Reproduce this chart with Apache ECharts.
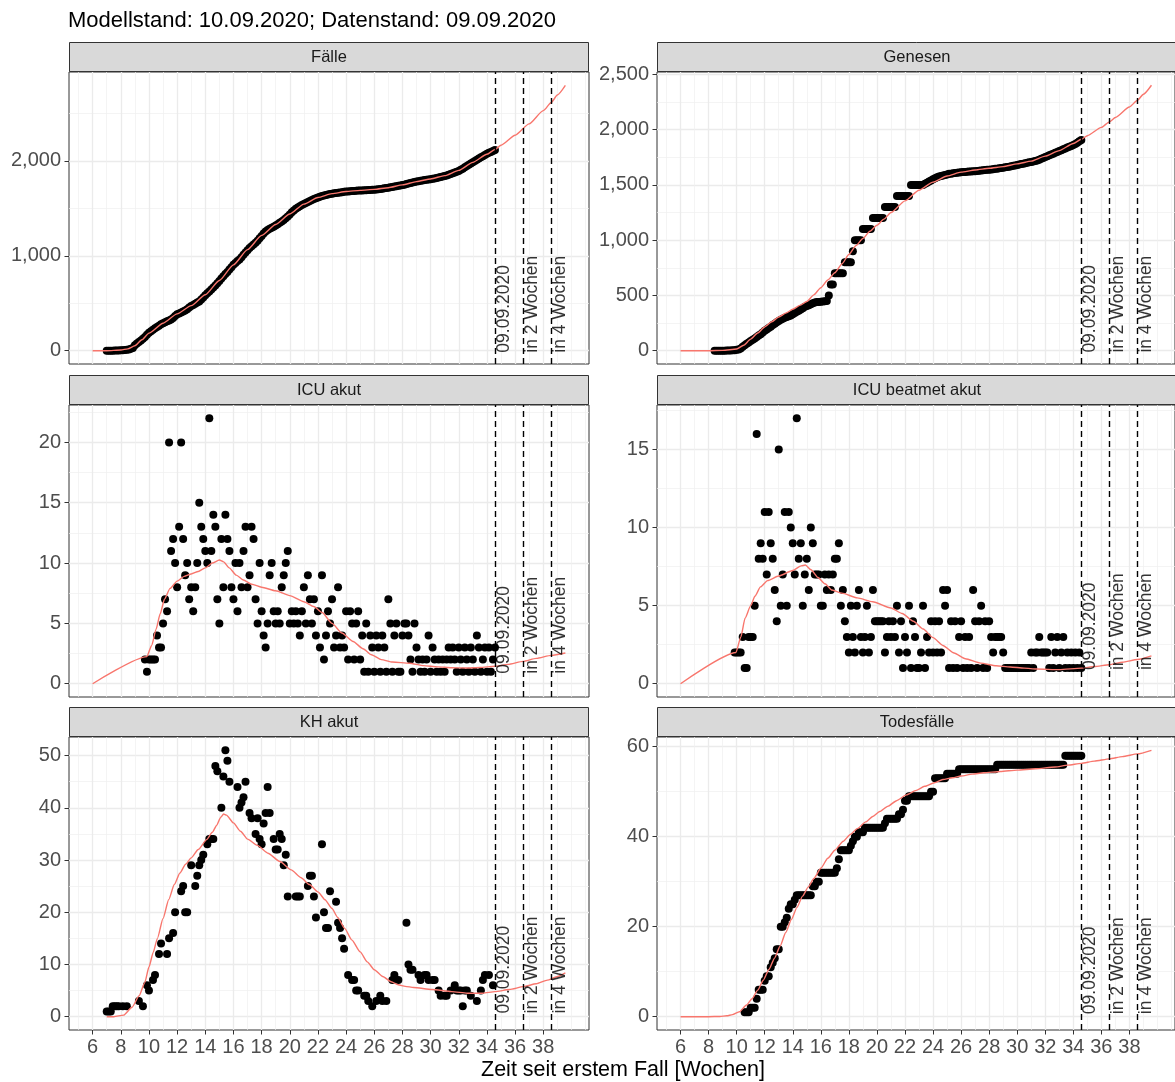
<!DOCTYPE html>
<html>
<head>
<meta charset="utf-8">
<script src="https://cdn.jsdelivr.net/npm/echarts@6/dist/echarts.min.js"></script>
<style>
html,body{margin:0;padding:0;background:#fff;}
#chart{width:1175px;height:1082px;}
</style>
</head>
<body>
<div id="chart"></div>
<script>
// ---------------- DATA ----------------
const titleText = 'Modellstand: 10.09.2020; Datenstand: 09.09.2020';
const xAxisTitle = 'Zeit seit erstem Fall [Wochen]';
const panelTitles = ['Fälle', 'Genesen', 'ICU akut', 'ICU beatmet akut', 'KH akut', 'Todesfälle'];

// daily observations start at week 7 (one value per day)
const firstWeek = 7;

const refLineWeeks = [34.571, 36.571, 38.571];
const refLineLabels = ['09.09.2020', 'in 2 Wochen', 'in 4 Wochen'];
const refLabelY = 1;

const xMajorTicks = [6, 8, 10, 12, 14, 16, 18, 20, 22, 24, 26, 28, 30, 32, 34, 36, 38];
const xMinorTicks = [5, 7, 9, 11, 13, 15, 17, 19, 21, 23, 25, 27, 29, 31, 33, 35, 37, 39, 40, 41];

const faelle = [
0,0,1,1,2,2,3,
5,6,8,10,14,20,30,
58,75,92,108,125,145,168,
190,205,222,236,250,264,278,
290,300,310,318,328,345,365,
385,393,404,414,424,438,455,
470,482,495,508,520,540,562,
585,605,625,645,665,688,712,
735,760,785,808,830,855,880,
905,925,945,962,985,1010,1035,
1060,1082,1100,1118,1138,1160,1185,
1210,1235,1255,1272,1285,1295,1305,
1320,1333,1348,1362,1378,1395,1415,
1435,1458,1478,1495,1510,1522,1535,
1545,1556,1566,1578,1588,1598,1607,
1615,1622,1630,1636,1642,1647,1651,
1655,1659,1662,1665,1668,1671,1674,
1677,1679,1681,1683,1684,1686,1687,
1688,1689,1690,1692,1693,1694,1696,
1697,1699,1702,1705,1708,1711,1714,
1718,1722,1726,1730,1734,1738,1741,
1745,1750,1756,1762,1768,1773,1778,
1782,1786,1790,1794,1798,1801,1805,
1808,1812,1816,1821,1826,1830,1835,
1840,1846,1853,1861,1869,1877,1885,
1895,1906,1918,1932,1946,1960,1972,
1985,1998,2012,2025,2038,2050,2062,
2075,2085,2095,2105,2115
];

const genesen = [
null,null,null,null,null,null,null,
null,null,null,0,0,0,0,
0,0,2,2,3,4,5,
8,12,20,35,50,62,75,
88,100,110,125,138,150,165,
180,192,205,218,232,245,258,
268,280,290,298,305,312,318,
330,342,352,362,372,385,398,
405,412,420,430,436,440,440,
442,445,448,450,500,600,600,
700,700,700,700,700,800,800,
800,800,900,1000,1000,1000,1000,
1100,1100,1100,1100,1100,1200,1200,
1200,1200,1200,1200,1300,1300,1300,
1300,1300,1300,1400,1400,1400,1400,
1400,1400,1400,1500,1500,1500,1500,
1500,1500,1500,1510,1520,1530,1540,
1550,1560,1570,1575,1580,1585,1590,
1595,1600,1600,1605,1608,1610,1612,
1615,1616,1617,1618,1620,1621,1623,
1624,1626,1628,1630,1632,1634,1636,
1638,1640,1642,1645,1647,1650,1653,
1656,1659,1662,1665,1668,1672,1676,
1680,1684,1688,1692,1696,1700,1704,
1708,1712,1716,1720,1728,1736,1744,
1752,1760,1768,1775,1782,1790,1798,
1806,1814,1822,1830,1838,1845,1852,
1860,1870,1882,1894,1905
];

const icuAkut = [
null,null,null,null,null,null,null,
null,null,null,null,null,null,null,
null,null,null,null,null,2,1,
2,2,2,2,4,3,3,
5,7,6,20,11,12,10,
8,13,20,12,9,10,7,
8,6,8,10,15,13,12,
11,10,22,11,14,13,7,
5,12,8,14,12,11,8,
7,10,6,10,8,11,13,
8,9,13,12,7,5,10,
6,4,3,5,9,10,6,
5,6,5,8,9,10,11,
5,6,5,6,5,4,6,
8,5,9,7,5,7,4,
6,3,9,2,4,6,5,
7,3,4,8,3,4,3,
6,2,6,5,2,5,6,
2,4,1,5,1,4,3,
1,4,3,1,4,3,1,
7,5,1,4,5,1,1,
4,5,5,4,2,1,5,
3,2,1,2,1,2,4,
1,3,2,1,2,1,2,
1,2,3,2,3,2,1,
3,2,1,3,2,1,3,
2,1,4,3,1,2,3,
1,3,1,2,3
];

const icuBeatmet = [
null,null,null,null,null,null,null,
null,null,null,null,null,null,null,
null,null,null,null,null,null,2,
2,2,2,3,1,1,3,
3,3,5,16,8,9,8,
11,7,11,9,8,6,4,
15,5,7,11,5,11,10,
9,7,17,8,9,5,7,
8,6,10,9,7,7,7,
5,5,7,6,7,6,7,
8,8,9,5,6,4,3,
2,5,3,2,5,6,3,
2,3,5,2,3,6,4,
4,4,4,4,2,3,4,
3,4,3,5,2,4,1,
3,2,5,1,4,3,1,
1,2,5,1,3,2,4,
2,4,2,4,2,6,5,
6,1,4,1,4,1,3,
4,1,3,1,3,1,6,
4,1,4,5,1,4,1,
4,3,2,3,3,3,3,
2,1,1,1,1,1,1,
1,1,1,1,1,1,1,
2,1,2,2,3,2,2,
2,2,1,3,1,2,3,
1,2,3,1,2,1,2,
1,2,1,2,1
];

const khAkut = [
1,1,1,2,2,2,2,
null,2,null,2,null,null,null,
null,null,3,null,2,null,6,
5,null,7,8,null,12,14,
null,null,12,15,null,16,20,
null,null,24,25,20,20,null,
29,null,25,27,29,30,31,
null,33,34,34,34,48,47,
null,40,46,51,49,45,null,
null,null,44,40,41,42,45,
null,39,38,null,35,38,34,
33,37,39,44,39,null,34,
32,32,35,34,29,31,23,
null,null,null,23,23,23,null,
null,null,25,27,27,23,19,
null,null,33,20,17,17,24,
null,null,22,18,17,15,13,
null,8,null,7,7,5,5,
null,null,4,4,3,null,2,
null,3,null,4,3,null,3,
null,null,7,8,null,7,null,
null,null,18,10,9,9,null,
null,8,7,null,8,8,7,
null,7,7,null,5,4,null,
4,4,null,5,null,6,5,
5,5,2,5,5,null,4,
null,null,3,null,5,7,8,
null,8,null,6,null
];

const todesfaelle = [
null,null,null,null,null,null,null,
null,null,null,null,null,null,null,
null,null,null,null,null,null,null,
null,null,null,null,1,1,1,
2,2,2,4,6,6,6,
8,9,9,11,12,13,15,
15,20,20,21,22,24,25,
25,26,27,27,27,27,27,
27,27,27,29,29,30,30,
32,32,32,32,32,32,32,
32,33,35,37,37,37,37,
37,38,39,40,40,41,41,
41,42,42,42,42,42,42,
42,42,42,42,43,44,44,
44,44,44,44,45,45,46,
48,48,49,49,49,49,49,
49,49,49,49,49,49,50,
50,53,53,53,53,53,53,
54,54,54,54,54,54,55,
55,55,55,55,55,55,55,
55,55,55,55,55,55,55,
55,55,55,55,56,56,56,
56,56,56,56,56,56,56,
56,56,56,56,56,56,56,
56,56,56,56,56,56,56,
56,56,56,56,56,56,56,
56,56,56,58,58,58,58,
58,58,58,58,58
];

// model fit curves: [week, value]
const faelleFit = [[6,0],[7,0],[8,8],[8.5,20],[9,52],[9.5,115],[10,185],[11,290],[12,388],[13,475],[14,590],[15,740],[16,905],[17,1065],[18,1215],[19,1330],[20,1440],[21,1545],[22,1615],[23,1655],[24,1678],[25,1690],[26,1700],[27,1718],[28,1748],[29,1782],[30,1810],[31,1845],[32,1900],[33,1985],[34,2070],[34.571,2120],[35,2165],[36,2270],[37,2390],[38,2530],[38.571,2615],[39,2695],[39.571,2797]];
const genesenFit = [[6,0],[8,0],[9,3],[10,15],[10.5,50],[11,105],[11.5,160],[12,215],[12.5,262],[13,305],[13.5,340],[14,375],[14.5,410],[15,445],[15.5,505],[16,570],[16.5,640],[17,705],[17.5,785],[18,870],[18.5,950],[19,1015],[19.5,1080],[20,1135],[20.5,1190],[21,1250],[22,1355],[23,1452],[24,1525],[25,1580],[26,1615],[27,1635],[28,1650],[29,1665],[30,1690],[31,1715],[32,1760],[33,1810],[34,1875],[34.571,1913],[35,1945],[36,2020],[36.571,2070],[37,2110],[38,2205],[38.571,2265],[39,2320],[39.571,2401]];
const icuAkutFit = [[6,0],[9.85,2.25],[10.2,3.2],[10.5,4.5],[10.8,5.8],[11.1,7.0],[11.5,7.9],[12,8.5],[12.5,8.9],[13,9.1],[13.5,9.3],[14,9.6],[14.5,10.0],[15,10.25],[15.3,10.1],[15.7,9.6],[16.2,9.0],[16.7,8.6],[17.3,8.25],[18,8.0],[19,7.7],[20,7.3],[21,6.8],[21.7,6.4],[22.3,5.9],[23,5.0],[23.7,4.2],[24.5,3.5],[25.2,2.9],[25.8,2.4],[26.5,2.0],[27.3,1.8],[28.5,1.7],[29.5,1.5],[30.5,1.4],[31.5,1.32],[32.5,1.3],[33.5,1.35],[34.571,1.45],[35.5,1.6],[36.571,1.85],[37.5,2.1],[38.571,2.35],[39.571,2.55]];
const icuBeatmetFit = [[6,0],[9.95,2.0],[10.3,3.0],[10.6,4.2],[11,5.0],[11.3,5.6],[11.7,6.2],[12.2,6.6],[13,6.9],[14,7.25],[14.6,7.55],[14.9,7.6],[15.3,7.3],[15.8,6.8],[16.3,6.4],[16.8,6.0],[17.5,5.8],[18.6,5.5],[19.7,5.25],[21,4.85],[21.8,4.5],[22.6,4.0],[23.3,3.5],[24,2.95],[24.7,2.45],[25.5,1.97],[26.3,1.6],[27.4,1.32],[28.5,1.15],[29.5,1.07],[30.5,1.0],[31.4,0.94],[33,0.9],[34.571,1.0],[35.5,1.1],[36.571,1.22],[37.5,1.38],[38.571,1.55],[39.571,1.78]];
const khAkutFit = [[7,0],[7.5,0],[8.2,0.3],[8.8,1.8],[9.3,4],[9.7,6.5],[10,9.5],[10.3,12.3],[10.6,15],[11,18.8],[11.4,22.4],[11.8,25.3],[12.2,27.5],[12.6,29.2],[13,30.4],[13.5,32],[14.1,33.9],[14.5,35.3],[14.8,36.6],[15.1,38.2],[15.3,38.8],[15.5,38.6],[16,37.1],[16.5,35.5],[17,34],[17.7,32.8],[18.45,31.3],[19.3,29.7],[20.1,28.1],[20.8,26.6],[21.4,25.3],[22,23.9],[22.5,22.4],[23,20.7],[23.4,19],[23.9,16.9],[24.4,14.7],[25,12.4],[25.5,10.5],[26,9],[26.6,7.7],[27.2,6.7],[27.7,6.1],[28.2,5.8],[28.8,5.6],[30.1,5.2],[31.5,4.8],[32.6,4.5],[33.7,4.5],[34.571,4.8],[35.6,5.2],[36.6,5.75],[37.5,6.3],[38.3,7.0],[38.9,7.6],[39.571,8.4]];
const todesfaelleFit = [[6,0],[8,0],[8.8,0.05],[9.3,0.2],[9.7,0.45],[10.2,1.1],[10.7,2.6],[11.1,4.0],[11.5,5.9],[11.9,8.1],[12.3,10.5],[12.7,13.0],[13.1,15.7],[13.5,18.7],[13.9,21.6],[14.3,24.3],[14.7,26.8],[15.1,28.8],[15.5,30.7],[16,33],[16.5,35.2],[17,37],[17.6,39],[18.1,40.5],[18.6,41.8],[19.2,43.3],[19.7,44.5],[20.2,45.6],[20.8,46.8],[21.4,48],[22.1,49.3],[22.8,50.3],[23.4,51.2],[24.1,52],[24.7,52.7],[25.4,53.1],[26,53.5],[26.8,53.9],[27.6,54.2],[28.8,54.5],[30,54.8],[31.3,55.1],[32.7,55.5],[33.6,55.9],[34.571,56.3],[35.5,56.8],[36.571,57.3],[37.5,57.8],[38.571,58.4],[39.571,59.2]];

// y tick labels (major) and minor grid positions
const faelleYTicks = [0, 1000, 2000];          const faelleYMinor = [500, 1500, 2500];
const genesenYTicks = [0, 500, 1000, 1500, 2000, 2500]; const genesenYMinor = [250, 750, 1250, 1750, 2250];
const icuAkutYTicks = [0, 5, 10, 15, 20];      const icuAkutYMinor = [2.5, 7.5, 12.5, 17.5, 22.5];
const icuBeatmetYTicks = [0, 5, 10, 15];       const icuBeatmetYMinor = [2.5, 7.5, 12.5, 17.5];
const khAkutYTicks = [0, 10, 20, 30, 40, 50];  const khAkutYMinor = [5, 15, 25, 35, 45];
const todesYTicks = [0, 20, 40, 60];           const todesYMinor = [10, 30, 50];

// ---------------- LAYOUT / STYLE ----------------
const FONT = "'Liberation Sans', Arial, Helvetica, sans-serif";
const colLeft = [69, 657];
const panelW = 520;
const rowTop = [72, 405, 737];
const rowH = [292, 292, 293];
const stripH = 30;

const panels = [
  {title: panelTitles[0], pts: faelle, fit: faelleFit, yt: faelleYTicks, ym: faelleYMinor, row: 0, col: 0},
  {title: panelTitles[1], pts: genesen, fit: genesenFit, yt: genesenYTicks, ym: genesenYMinor, row: 0, col: 1},
  {title: panelTitles[2], pts: icuAkut, fit: icuAkutFit, yt: icuAkutYTicks, ym: icuAkutYMinor, row: 1, col: 0},
  {title: panelTitles[3], pts: icuBeatmet, fit: icuBeatmetFit, yt: icuBeatmetYTicks, ym: icuBeatmetYMinor, row: 1, col: 1},
  {title: panelTitles[4], pts: khAkut, fit: khAkutFit, yt: khAkutYTicks, ym: khAkutYMinor, row: 2, col: 0},
  {title: panelTitles[5], pts: todesfaelle, fit: todesfaelleFit, yt: todesYTicks, ym: todesYMinor, row: 2, col: 1}
];

function toPoints(arr) {
  const out = [];
  arr.forEach((v, i) => { if (v !== null) out.push([firstWeek + i / 7, v]); });
  return out;
}

// shared x limits (ggplot-style 5% expansion)
let xLo = Infinity, xHi = -Infinity;
panels.forEach(p => p.fit.forEach(d => { xLo = Math.min(xLo, d[0]); xHi = Math.max(xHi, d[0]); }));
const xPad = (xHi - xLo) * 0.05;
const xMin = xLo - xPad, xMax = xHi + xPad;

const fmt = v => Number(v).toLocaleString('en-US');

const grids = [], xAxes = [], yAxes = [], series = [], graphics = [];

panels.forEach((p, k) => {
  const left = colLeft[p.col];
  const top = rowTop[p.row];
  const h = rowH[p.row];
  const bottomRow = p.row === 2;
  grids.push({left: left, top: top, width: panelW, height: h, show: true,
    borderColor: '#333333', borderWidth: 1, backgroundColor: '#ffffff', containLabel: false});

  let yLo = 0, yHi = -Infinity;
  p.pts.forEach(v => { if (v !== null) { yHi = Math.max(yHi, v); yLo = Math.min(yLo, v); } });
  p.fit.forEach(d => { yHi = Math.max(yHi, d[1]); yLo = Math.min(yLo, d[1]); });
  const yPad = (yHi - yLo) * 0.05;
  const yMin = yLo - yPad, yMax = yHi + yPad;

  // major x axis
  xAxes.push({gridIndex: k, type: 'value', min: xMin, max: xMax, position: 'bottom',
    axisLine: {show: false, onZero: false},
    axisTick: {show: bottomRow, customValues: xMajorTicks, length: 4.5, lineStyle: {color: '#333333', width: 1}},
    axisLabel: {show: bottomRow, customValues: xMajorTicks, color: '#4D4D4D', fontSize: 20, margin: 7, fontFamily: FONT},
    splitLine: {show: true, lineStyle: {color: '#EBEBEB', width: 1.3}}});
  // minor x grid
  xAxes.push({gridIndex: k, type: 'value', min: xMin, max: xMax, position: 'bottom',
    axisLine: {show: false, onZero: false},
    axisTick: {show: false, customValues: xMinorTicks},
    axisLabel: {show: false, customValues: xMinorTicks},
    splitLine: {show: true, lineStyle: {color: '#EFEFEF', width: 0.7}}});
  // major y axis
  yAxes.push({gridIndex: k, type: 'value', min: yMin, max: yMax, position: 'left',
    axisLine: {show: false, onZero: false},
    axisTick: {show: true, customValues: p.yt, length: 4.5, lineStyle: {color: '#333333', width: 1}},
    axisLabel: {show: true, customValues: p.yt, color: '#4D4D4D', fontSize: 20, margin: 8, fontFamily: FONT, formatter: fmt},
    splitLine: {show: true, lineStyle: {color: '#EBEBEB', width: 1.3}}});
  // minor y grid
  yAxes.push({gridIndex: k, type: 'value', min: yMin, max: yMax, position: 'left',
    axisLine: {show: false, onZero: false},
    axisTick: {show: false, customValues: p.ym},
    axisLabel: {show: false, customValues: p.ym},
    splitLine: {show: true, lineStyle: {color: '#EFEFEF', width: 0.7}}});

  const xi = 2 * k, yi = 2 * k;
  series.push({type: 'scatter', xAxisIndex: xi, yAxisIndex: yi, data: toPoints(p.pts),
    symbol: 'circle', symbolSize: 8, itemStyle: {color: '#000000', opacity: 1}, z: 2, silent: true});
  series.push({type: 'line', xAxisIndex: xi, yAxisIndex: yi, data: p.fit, showSymbol: false,
    smooth: 0.2, smoothMonotone: 'x',
    lineStyle: {color: '#F8766D', width: 1.4}, itemStyle: {color: '#F8766D'}, z: 3, silent: true,
    markLine: {silent: true, symbol: ['none', 'none'], label: {show: false},
      lineStyle: {type: [6, 4], color: '#000000', width: 1.4},
      data: refLineWeeks.map(w => ({xAxis: w}))}});
  series.push({type: 'scatter', xAxisIndex: xi, yAxisIndex: yi,
    data: refLineWeeks.map((w, j) => ({value: [w, refLabelY], name: refLineLabels[j]})),
    symbolSize: 1, itemStyle: {color: 'rgba(0,0,0,0)'}, z: 5, silent: true,
    label: {show: true, position: 'inside', formatter: '{b}', rotate: 90, align: 'left', verticalAlign: 'top',
      offset: [-2, 0], color: '#000000', fontSize: 17.5, fontFamily: FONT}});

  // facet strip
  graphics.push({type: 'rect', shape: {x: left + 0.5, y: top - stripH + 0.5, width: panelW - 1, height: stripH - 1},
    style: {fill: '#D9D9D9', stroke: '#333333', lineWidth: 1}, z: 10});
  graphics.push({type: 'text', x: left + panelW / 2, y: top - stripH / 2,
    style: {text: p.title, fill: '#1A1A1A', font: '16.5px ' + FONT, textAlign: 'center', textVerticalAlign: 'middle'}, z: 11});
});

graphics.push({type: 'text', x: (colLeft[0] + colLeft[1] + panelW) / 2, y: 1070,
  style: {text: xAxisTitle, fill: '#000000', font: '21.5px ' + FONT, textAlign: 'center', textVerticalAlign: 'middle'}, z: 11});

const chart = echarts.init(document.getElementById('chart'), null, {renderer: 'canvas', width: 1175, height: 1082});
chart.setOption({
  animation: false,
  backgroundColor: '#ffffff',
  title: {text: titleText, left: 68, top: 10, padding: 0,
    textStyle: {fontSize: 22, fontWeight: 'normal', color: '#000000', fontFamily: FONT}},
  grid: grids,
  xAxis: xAxes,
  yAxis: yAxes,
  series: series,
  graphic: graphics
});
</script>
</body>
</html>
